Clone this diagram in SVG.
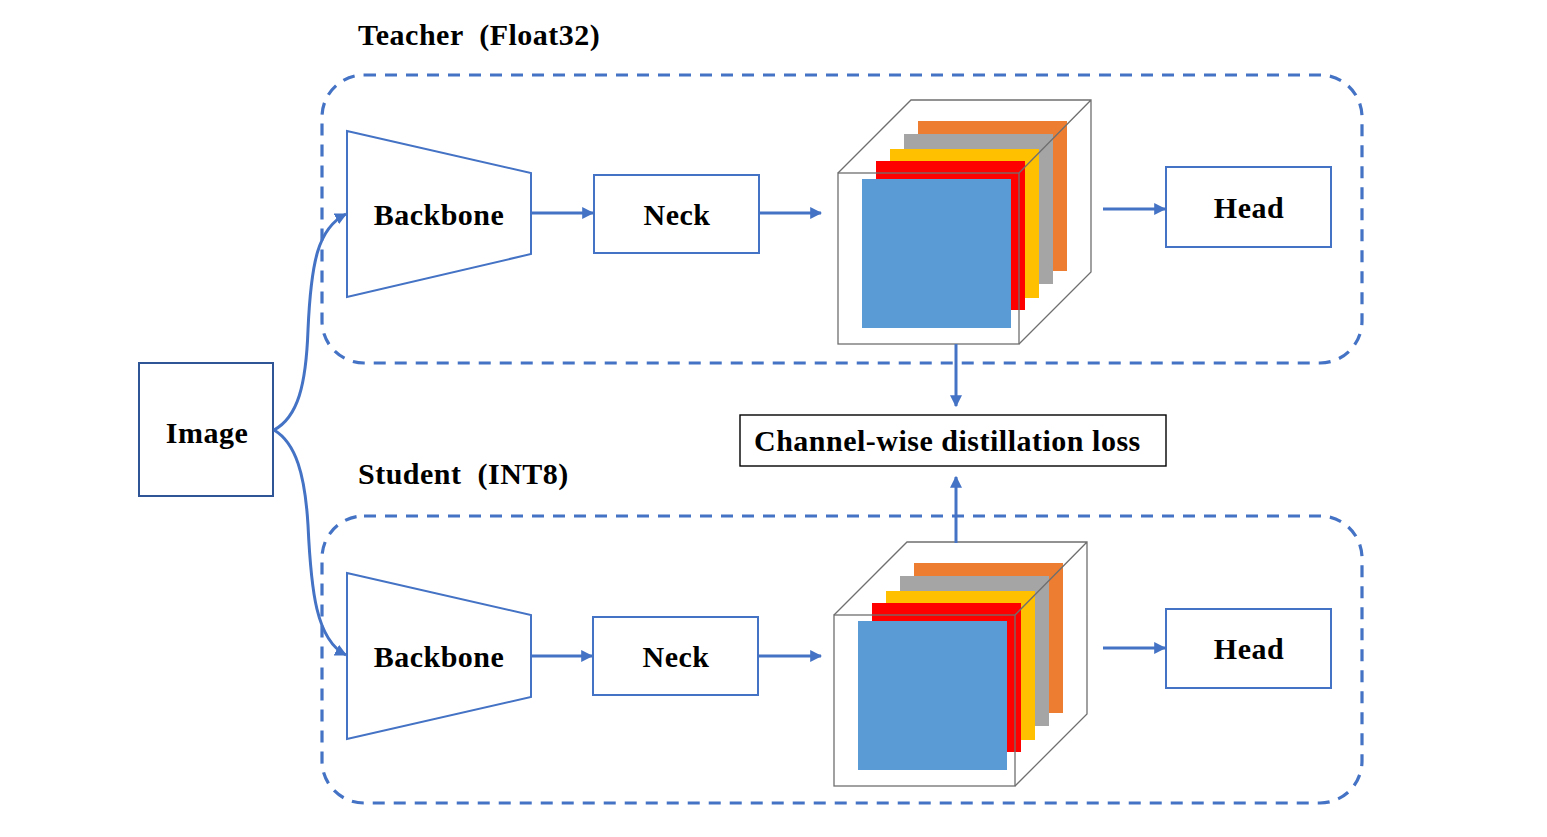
<svg xmlns="http://www.w3.org/2000/svg" width="1547" height="837" viewBox="0 0 1547 837">
<defs>
<style>
.t{font-family:"Liberation Serif","Times New Roman",serif;font-weight:bold;font-size:30px;letter-spacing:0.5px;fill:#000;white-space:pre}
.c{text-anchor:middle}
.node{fill:#fff;stroke:#4472C4;stroke-width:2}
.dash{fill:none;stroke:#4472C4;stroke-width:3.2;stroke-dasharray:12 9}
.edge{fill:none;stroke:#4472C4;stroke-width:3}
.cube{fill:none;stroke:#6f6f6f;stroke-width:1.3}
</style>
<marker id="ah" viewBox="0 0 10 10" refX="9" refY="5" markerWidth="4" markerHeight="4" orient="auto" markerUnits="strokeWidth">
<path d="M0,0 L10,5 L0,10 z" fill="#4472C4"/>
</marker>
<g id="cubeShape">
<path d="M838,173 L911,100 L1091,100 L1091,272 L1019,344 L838,344 Z" fill="#fff" stroke="none"/>
<rect x="918" y="121" width="149" height="150" fill="#ED7D31"/>
<rect x="904" y="134" width="149" height="150" fill="#A5A5A5"/>
<rect x="890" y="149" width="149" height="149" fill="#FFC000"/>
<rect x="876" y="161" width="149" height="149" fill="#FF0000"/>
<rect x="862" y="179" width="149" height="149" fill="#5B9BD5"/>
<path class="cube" d="M838,173 L911,100 L1091,100 L1091,272 L1019,344 M1019,173 L1091,100"/>
<rect class="cube" x="838" y="173" width="181" height="171"/>
</g>
</defs>

<g id="teacher-frame">
<rect class="dash" x="322" y="75" width="1040" height="288" rx="42" ry="42"/>
<text class="t" x="358" y="45">Teacher  (Float32)</text>
</g>
<g id="student-frame">
<rect class="dash" x="322" y="516" width="1040" height="287" rx="42" ry="42"/>
<text class="t" x="358" y="484">Student  (INT8)</text>
</g>

<g id="image">
<rect x="139" y="363" width="134" height="133" fill="#fff" stroke="#2F5597" stroke-width="2"/>
<text class="t c" x="207" y="443">Image</text>
</g>

<g id="teacher-backbone">
<path class="node" d="M347,131 L531,173 L531,254 L347,297 Z"/>
<text class="t c" x="439" y="225">Backbone</text>
</g>
<g id="teacher-neck">
<rect class="node" x="594" y="175" width="165" height="78"/>
<text class="t c" x="677" y="225">Neck</text>
</g>
<g id="teacher-features">
<use href="#cubeShape"/>
</g>
<g id="teacher-head">
<rect class="node" x="1166" y="167" width="165" height="80"/>
<text class="t c" x="1249" y="218">Head</text>
</g>

<g id="student-backbone">
<path class="node" d="M347,573 L531,615 L531,697 L347,739 Z"/>
<text class="t c" x="439" y="667">Backbone</text>
</g>
<g id="student-neck">
<rect class="node" x="593" y="617" width="165" height="78"/>
<text class="t c" x="676" y="667">Neck</text>
</g>
<g id="student-features">
<use href="#cubeShape" transform="translate(-4,442)"/>
</g>
<g id="student-head">
<rect class="node" x="1166" y="609" width="165" height="79"/>
<text class="t c" x="1249" y="659">Head</text>
</g>

<g id="loss">
<rect x="740" y="415" width="426" height="51" fill="#fff" stroke="#000" stroke-width="1.4"/>
<text class="t" x="754" y="451">Channel-wise distillation loss</text>
</g>

<g id="connectors">
<path class="edge" d="M274,430 C298,417 306,385 308,330 C311,262 318,228 346,214" marker-end="url(#ah)"/>
<path class="edge" d="M274,430 C296,443 305,475 308,525 C311,590 316,640 346,655" marker-end="url(#ah)"/>
<path class="edge" d="M531,213 L593,213" marker-end="url(#ah)"/>
<path class="edge" d="M759,213 L821,213" marker-end="url(#ah)"/>
<path class="edge" d="M1103,209 L1165,209" marker-end="url(#ah)"/>
<path class="edge" d="M531,656 L592,656" marker-end="url(#ah)"/>
<path class="edge" d="M758,656 L821,656" marker-end="url(#ah)"/>
<path class="edge" d="M1103,648 L1165,648" marker-end="url(#ah)"/>
<path class="edge" d="M956,344 L956,406" marker-end="url(#ah)"/>
<path class="edge" d="M956,543 L956,477" marker-end="url(#ah)"/>
</g>
</svg>
